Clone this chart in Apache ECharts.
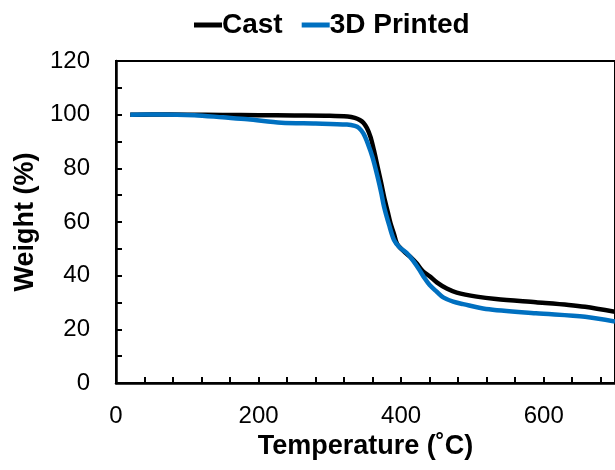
<!DOCTYPE html>
<html>
<head>
<meta charset="utf-8">
<script src="https://cdn.jsdelivr.net/npm/echarts@6/dist/echarts.min.js"></script>
<style>
  html, body {margin: 0; padding: 0; background: #fff;}
  #chart {width: 615px; height: 470px;}
</style>
</head>
<body>
<div id="chart"></div>
<script>
// TGA curves
const castTemp = [20, 50, 100, 150, 200, 250, 300, 325, 335, 342, 347, 352, 357, 362, 367, 372, 376, 381, 385, 390, 394, 400, 406, 413, 422, 431, 440, 450, 464, 478, 506, 533, 589, 635, 658, 700];
const castWeight = [100, 100.1, 100, 99.9, 99.8, 99.7, 99.6, 99.3, 98.8, 98, 97, 95, 91.7, 86.5, 80.5, 74.5, 69.4, 64, 59.6, 55.5, 52, 50, 48.5, 47, 44.5, 41.5, 39.8, 37.5, 35.2, 33.7, 32.2, 31.3, 30.1, 29.1, 28.4, 26.5];
const printedTemp = [20, 60, 110, 150, 185, 232, 280, 324, 335, 341, 347, 353, 360, 367, 372, 376, 383, 390, 398, 408, 417, 426, 433, 440, 450, 459, 473, 487, 519, 589, 658, 700];
const printedWeight = [100, 100.1, 99.8, 99, 98.3, 97, 96.7, 96.3, 95.8, 95, 93, 89.4, 84, 76.8, 71, 65.7, 59, 53.3, 50.5, 48.4, 45.5, 42, 39, 36.5, 34, 31.9, 30.3, 29.4, 27.6, 26.0, 24.7, 22.9];

const xLabelStep = 200;
const yLabelStep = 20;

const font = '"Liberation Sans", Arial, sans-serif';
const pairs = (xs, ys) => xs.map((x, i) => [x, ys[i]]);

const chart = echarts.init(document.getElementById('chart'));
chart.setOption({
    animation: false,
    legend: {
        left: 189,
        top: 6,
        itemWidth: 28,
        itemHeight: 5,
        itemGap: 19,
        icon: 'rect',
        textStyle: {
            fontFamily: font,
            fontSize: 28,
            fontWeight: 'bold',
            color: '#000',
            padding: [0, 0, 0, -5]
        },
        data: ['Cast', '3D Printed']
    },
    grid: {
        left: 116,
        right: -5,
        top: 61,
        bottom: 87,
        show: true,
        borderColor: '#000',
        borderWidth: 2
    },
    xAxis: {
        type: 'value',
        min: 0,
        max: 700,
        interval: 40,
        name: 'Temperature (˚C)',
        nameLocation: 'middle',
        nameGap: 50,
        nameTextStyle: {fontFamily: font, fontSize: 27, fontWeight: 'bold', color: '#000'},
        axisLine: {lineStyle: {color: '#000', width: 2.5}},
        axisTick: {inside: true, length: 6, lineStyle: {color: '#000', width: 2}},
        axisLabel: {
            fontFamily: font, fontSize: 24, color: '#000', margin: 21,
            showMaxLabel: false,
            formatter: v => (v % xLabelStep === 0 ? String(v) : '')
        },
        splitLine: {show: false}
    },
    yAxis: {
        type: 'value',
        min: 0,
        max: 120,
        interval: 10,
        name: 'Weight (%)',
        nameLocation: 'middle',
        nameGap: 77,
        nameTextStyle: {fontFamily: font, fontSize: 27, fontWeight: 'bold', color: '#000'},
        axisLine: {show: true, lineStyle: {color: '#000', width: 2.5}},
        axisTick: {show: true, inside: true, length: 6, lineStyle: {color: '#000', width: 2}},
        axisLabel: {
            fontFamily: font, fontSize: 24, color: '#000', margin: 26,
            formatter: v => (v % yLabelStep === 0 ? String(v) : '')
        },
        splitLine: {show: false}
    },
    series: [
        {
            name: 'Cast',
            type: 'line',
            data: pairs(castTemp, castWeight),
            showSymbol: false,
            smooth: 0.3,
            color: '#000',
            lineStyle: {color: '#000', width: 4.5}
        },
        {
            name: '3D Printed',
            type: 'line',
            data: pairs(printedTemp, printedWeight),
            showSymbol: false,
            smooth: 0.3,
            color: '#0070c0',
            lineStyle: {color: '#0070c0', width: 4.5}
        }
    ]
});
</script>
</body>
</html>
